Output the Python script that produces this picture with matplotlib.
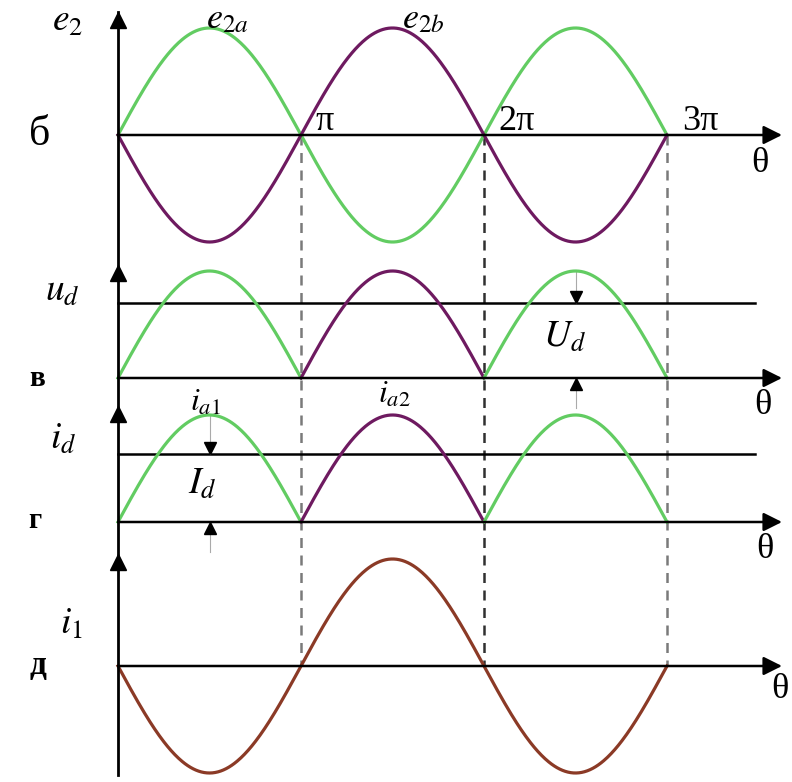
import numpy as np
import matplotlib.pyplot as plt
import matplotlib

matplotlib.rcParams['mathtext.fontset'] = 'stix'
matplotlib.rcParams['font.family'] = ['Liberation Serif', 'DejaVu Serif']

# ---- data (in units of the amplitude, angles in multiples of pi) ----
periods = [0, 1, 2, 3]                 # marks on the theta axis (x pi)
tick_labels = ['π', '2π', '3π']
panel_letters = ['б', 'в', 'г', 'д']
amp_e2 = 1.0                           # e2a, e2b amplitude
amp_ud = 1.0                           # rectified voltage amplitude
amp_id = 1.0                           # rectified current amplitude
amp_i1 = 1.0                           # primary current amplitude
Ud_level = 0.70                        # mean of u_d relative to peak
Id_level = 0.64                        # mean of i_d relative to peak

# ---- layout (pixels) ----
W, H = 792, 782
X0, PX_PER_PI = 118, 183
BASE = [135, 378, 522, 666]            # zero line of each panel
SCALE = 107                            # pixels per unit amplitude

GREEN = '#62cc62'
PURPLE = '#6e1a60'
BROWN = '#8b3a26'

fig = plt.figure(figsize=(W / 100, H / 100), dpi=100)
ax = fig.add_axes([0, 0, 1, 1])
ax.set_xlim(-X0 / PX_PER_PI * np.pi, (W - X0) / PX_PER_PI * np.pi)
ax.set_ylim(H, 0)
ax.axis('off')

th = np.linspace(0, 3 * np.pi, 600)
def ypos(panel, v):
    return BASE[panel] - SCALE * v

def pxx(px):
    return (px - X0) / PX_PER_PI * np.pi

# panel б: e2a and e2b
ax.plot(th, ypos(0, amp_e2 * np.sin(th)), color=GREEN, lw=2.3, zorder=3)
ax.plot(th, ypos(0, -amp_e2 * np.sin(th)), color=PURPLE, lw=2.3, zorder=3)

# panel в and г: rectified halves
for p, amp in [(1, amp_ud), (2, amp_id)]:
    for k in range(3):
        seg = np.linspace(k * np.pi, (k + 1) * np.pi, 200)
        col = PURPLE if k == 1 else GREEN
        ax.plot(seg, ypos(p, amp * np.abs(np.sin(seg))), color=col, lw=2.3, zorder=3)

# panel д: primary current
ax.plot(th, ypos(3, -amp_i1 * np.sin(th)), color=BROWN, lw=2.3, zorder=3)

# mean levels
ax.plot([0, pxx(755)], [ypos(1, Ud_level)] * 2, color='black', lw=1.8)
ax.plot([0, pxx(755)], [ypos(2, Id_level)] * 2, color='black', lw=1.8)

# vertical dashed guides
for k, col in zip(periods[1:], ['#7a7a7a', '#303030', '#7a7a7a']):
    ax.plot([k * np.pi] * 2, [BASE[0], BASE[3]], color=col, lw=1.8,
            ls=(0, (4, 3)), zorder=1)

# axes: vertical line with arrowheads
ax.plot([0, 0], [12, 775], color='black', lw=2.0, zorder=4)
for yv in [20, 273, 414, 562]:
    ax.plot(0, yv, marker='^', ms=11, color='black', zorder=5)

# horizontal theta axes
x_end = pxx(782)
for p in range(4):
    ax.annotate('', xy=(x_end, BASE[p]), xytext=(0, BASE[p]),
                arrowprops=dict(arrowstyle='-|>', color='black', lw=1.8,
                                mutation_scale=28, shrinkA=0, shrinkB=0),
                zorder=4)

# small arrows for U_d and I_d
for p, xm, lvl in [(1, 2.5 * np.pi, Ud_level), (2, 0.5 * np.pi, Id_level)]:
    ax.plot([xm, xm], [ypos(p, 1.0), ypos(p, lvl)], color='#aaaaaa', lw=0.8, zorder=2)
    ax.plot(xm, ypos(p, lvl) - 6, marker='v', ms=8, color='black', zorder=5)
    ax.plot([xm, xm], [BASE[p] + 30, BASE[p]], color='#aaaaaa', lw=0.8, zorder=2)
    ax.plot(xm, BASE[p] + 6, marker='^', ms=8, color='black', zorder=5)

# texts
fs = 27
ax.text(pxx(52), 22, r'$e_2$', fontsize=fs, ha='left', va='center')
ax.text(pxx(206), 20, r'$e_{2a}$', fontsize=26, ha='left', va='center')
ax.text(pxx(402), 20, r'$e_{2b}$', fontsize=26, ha='left', va='center')
for k, lab in zip(periods[1:], tick_labels):
    ax.text(k * np.pi + 0.08 * np.pi, 122, lab, fontsize=26, ha='left', va='center')
ax.text(pxx(760), 163, 'θ', fontsize=26, ha='center', va='center')
ax.text(pxx(763), 406, 'θ', fontsize=26, ha='center', va='center')
ax.text(pxx(765), 550, 'θ', fontsize=26, ha='center', va='center')
ax.text(pxx(780), 690, 'θ', fontsize=26, ha='center', va='center')

ax.text(pxx(40), 135, panel_letters[0], fontsize=30, ha='center', va='center')
ax.text(pxx(37), 378, panel_letters[1], fontsize=21, fontweight='bold', ha='center', va='center')
ax.text(pxx(35), 521, panel_letters[2], fontsize=21, fontweight='bold', ha='center', va='center')
ax.text(pxx(38), 666, panel_letters[3], fontsize=24, fontweight='bold', ha='center', va='center')

ax.text(pxx(45), 292, r'$u_d$', fontsize=fs, ha='left', va='center')
ax.text(pxx(543), 338, r'$U_d$', fontsize=fs, ha='left', va='center')
ax.text(pxx(190), 403, r'$i_{a1}$', fontsize=23, ha='left', va='center')
ax.text(pxx(378), 395, r'$i_{a2}$', fontsize=23, ha='left', va='center')
ax.text(pxx(50), 440, r'$i_d$', fontsize=fs, ha='left', va='center')
ax.text(pxx(188), 485, r'$I_d$', fontsize=fs, ha='left', va='center')
ax.text(pxx(60), 625, r'$i_1$', fontsize=fs, ha='left', va='center')

fig.savefig('out.png', dpi=100)
